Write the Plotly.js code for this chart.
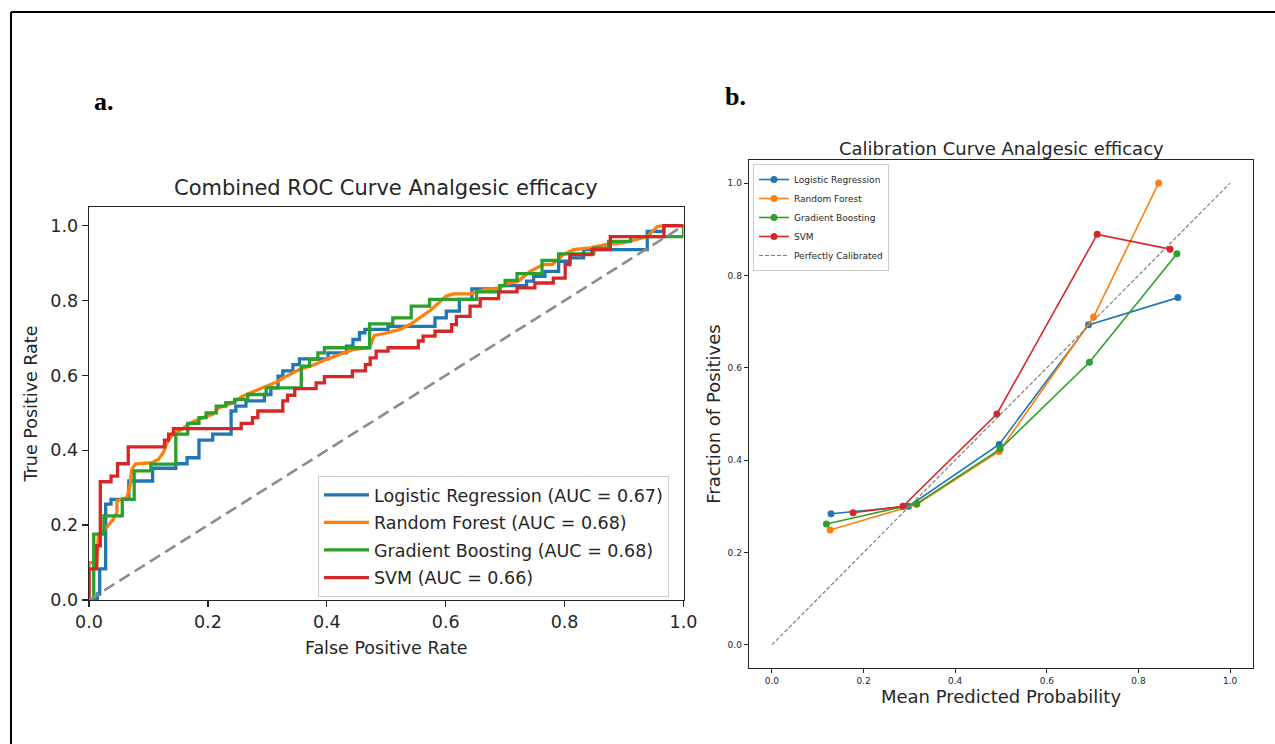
<!DOCTYPE html>
<html>
<head>
<meta charset="utf-8">
<script src="https://cdn.plot.ly/plotly-3.0.1.min.js"></script>
<style>html,body{margin:0;padding:0;background:#fff;}#chart{width:1275px;height:744px;}</style>
</head>
<body>
<div id="chart"></div>
<script>
// ---------- Panel a: ROC curves (corner points of each step curve) ----------
const fprLR = [0, 0.014, 0.018, 0.028, 0.037, 0.067, 0.107, 0.146, 0.165, 0.185, 0.208, 0.239, 0.247, 0.264, 0.295, 0.306, 0.318, 0.326, 0.343, 0.354, 0.402, 0.433, 0.444, 0.455, 0.464, 0.503, 0.582, 0.601, 0.623, 0.644, 0.691, 0.736, 0.748, 0.767, 0.790, 0.809, 0.832, 0.939, 0.967, 1.0];
const tprLR = [0, 0.016, 0.083, 0.256, 0.269, 0.318, 0.352, 0.364, 0.380, 0.427, 0.443, 0.505, 0.518, 0.532, 0.549, 0.567, 0.598, 0.612, 0.629, 0.644, 0.660, 0.678, 0.696, 0.714, 0.723, 0.731, 0.754, 0.772, 0.803, 0.831, 0.840, 0.852, 0.865, 0.878, 0.905, 0.914, 0.936, 0.985, 1.0, 1.0];

const fprRF = [0, 0, 0.013, 0.016, 0.027, 0.041, 0.047, 0.047, 0.064, 0.069, 0.072, 0.078, 0.106, 0.117, 0.125, 0.134, 0.145, 0.156, 0.169, 0.185, 0.208, 0.219, 0.242, 0.259, 0.275, 0.298, 0.315, 0.332, 0.354, 0.377, 0.399, 0.422, 0.444, 0.472, 0.480, 0.497, 0.523, 0.540, 0.556, 0.576, 0.601, 0.613, 0.641, 0.666, 0.689, 0.703, 0.722, 0.742, 0.764, 0.779, 0.798, 0.815, 0.843, 0.866, 0.899, 0.922, 0.939, 0.956, 0.967, 1.0];
const tprRF = [0, 0.100, 0.100, 0.176, 0.189, 0.216, 0.234, 0.265, 0.274, 0.305, 0.349, 0.363, 0.367, 0.376, 0.394, 0.429, 0.447, 0.456, 0.472, 0.483, 0.496, 0.514, 0.527, 0.545, 0.556, 0.572, 0.582, 0.598, 0.616, 0.627, 0.643, 0.656, 0.669, 0.674, 0.707, 0.712, 0.723, 0.736, 0.754, 0.776, 0.812, 0.818, 0.818, 0.829, 0.834, 0.845, 0.852, 0.878, 0.896, 0.896, 0.923, 0.936, 0.941, 0.949, 0.954, 0.963, 0.971, 0.998, 1.0, 1.0];

const fprGB = [0, 0.008, 0.025, 0.056, 0.076, 0.104, 0.146, 0.166, 0.185, 0.197, 0.214, 0.230, 0.245, 0.267, 0.298, 0.357, 0.371, 0.385, 0.396, 0.472, 0.511, 0.542, 0.573, 0.652, 0.691, 0.700, 0.720, 0.762, 0.790, 0.849, 0.874, 0.911, 1.0, 1.0];
const tprGB = [0, 0.176, 0.225, 0.269, 0.345, 0.363, 0.443, 0.472, 0.487, 0.500, 0.518, 0.527, 0.536, 0.549, 0.567, 0.625, 0.643, 0.660, 0.674, 0.738, 0.754, 0.785, 0.803, 0.823, 0.840, 0.854, 0.872, 0.907, 0.925, 0.940, 0.958, 0.971, 0.971, 1.0];

const fprSVM = [0, 0, 0.013, 0.019, 0.037, 0.048, 0.066, 0.127, 0.134, 0.142, 0.256, 0.275, 0.284, 0.326, 0.334, 0.346, 0.382, 0.396, 0.443, 0.465, 0.473, 0.483, 0.503, 0.554, 0.562, 0.582, 0.610, 0.618, 0.641, 0.658, 0.689, 0.720, 0.750, 0.781, 0.801, 0.809, 0.846, 0.877, 0.967, 1.0];
const tprSVM = [0, 0.083, 0.145, 0.316, 0.331, 0.364, 0.409, 0.427, 0.443, 0.458, 0.472, 0.487, 0.505, 0.532, 0.547, 0.565, 0.580, 0.597, 0.612, 0.629, 0.647, 0.665, 0.674, 0.692, 0.705, 0.718, 0.736, 0.758, 0.785, 0.805, 0.823, 0.834, 0.847, 0.860, 0.896, 0.923, 0.936, 0.971, 1.0, 1.0];

const rocNames = ["Logistic Regression (AUC = 0.67)", "Random Forest (AUC = 0.68)", "Gradient Boosting (AUC = 0.68)", "SVM (AUC = 0.66)"];
const chanceX = [0, 1];
const chanceY = [0, 1];

// ---------- Panel b: calibration curves ----------
const calNames = ["Logistic Regression", "Random Forest", "Gradient Boosting", "SVM"];
const calPredLR = [0.129, 0.298, 0.496, 0.691, 0.886];
const calFracLR = [0.284, 0.300, 0.434, 0.693, 0.752];
const calPredRF = [0.127, 0.316, 0.496, 0.702, 0.844];
const calFracRF = [0.249, 0.304, 0.419, 0.710, 1.000];
const calPredGB = [0.119, 0.316, 0.498, 0.693, 0.884];
const calFracGB = [0.262, 0.306, 0.424, 0.612, 0.847];
const calPredSVM = [0.177, 0.286, 0.491, 0.710, 0.869];
const calFracSVM = [0.286, 0.300, 0.500, 0.889, 0.857];
const perfectX = [0, 1];
const perfectY = [0, 1];

const colors = ["#1f77b4", "#ff7f0e", "#2ca02c", "#d62728"];
const FONT = "DejaVu Sans, sans-serif";

const W = 1275, H = 744;
const px = v => v / W;
const py = v => 1 - v / H;

const traces = [];
const rocX = [fprLR, fprRF, fprGB, fprSVM];
const rocY = [tprLR, tprRF, tprGB, tprSVM];
const rocShape = ["hv", "linear", "hv", "hv"];
for (let i = 0; i < 4; i++) {
  traces.push({
    x: rocX[i], y: rocY[i], xaxis: "x", yaxis: "y", mode: "lines",
    name: rocNames[i], legend: "legend", legendgroup: "r" + i,
    line: {color: colors[i], width: 3.3, shape: rocShape[i]},
    hoverinfo: "skip"
  });
}
traces.push({
  x: chanceX, y: chanceY, xaxis: "x", yaxis: "y", mode: "lines", showlegend: false,
  line: {color: "#8c8c8c", width: 2.6, dash: "12px,6px"}, hoverinfo: "skip"
});
const calX = [calPredLR, calPredRF, calPredGB, calPredSVM];
const calY = [calFracLR, calFracRF, calFracGB, calFracSVM];
for (let i = 0; i < 4; i++) {
  traces.push({
    x: calX[i], y: calY[i], xaxis: "x2", yaxis: "y2", mode: "lines+markers",
    name: calNames[i], legend: "legend2",
    line: {color: colors[i], width: 1.6}, marker: {color: colors[i], size: 7},
    hoverinfo: "skip"
  });
}
traces.push({
  x: perfectX, y: perfectY, xaxis: "x2", yaxis: "y2", mode: "lines",
  name: "Perfectly Calibrated", legend: "legend2",
  line: {color: "#808080", width: 1.2, dash: "4px,2px"}, hoverinfo: "skip"
});

const axBase = {
  showgrid: false, zeroline: false, showline: true, mirror: true,
  linecolor: "#262626", linewidth: 1.3, ticks: "outside", tickcolor: "#262626",
  tickformat: ".1f", fixedrange: true
};

const layout = {
  width: W, height: H, autosize: false,
  margin: {l: 0, r: 0, t: 0, b: 0},
  paper_bgcolor: "#ffffff", plot_bgcolor: "#ffffff",
  font: {family: FONT, color: "#262626"},
  showlegend: true,
  xaxis: Object.assign({}, axBase, {
    domain: [px(89), px(683.5)], anchor: "y", range: [0, 1], tickvals: [0, 0.2, 0.4, 0.6, 0.8, 1.0],
    ticklen: 6, tickwidth: 1.3, tickfont: {size: 17.5, family: FONT, color: "#262626"},
    title: {text: "False Positive Rate", font: {size: 17.5, family: FONT, color: "#262626"}, standoff: 10}
  }),
  yaxis: Object.assign({}, axBase, {
    domain: [py(600), py(207)], anchor: "x", range: [0, 1.05], tickvals: [0, 0.2, 0.4, 0.6, 0.8, 1.0],
    ticklen: 6, tickwidth: 1.3, tickfont: {size: 17.5, family: FONT, color: "#262626"},
    title: {text: "True Positive Rate", font: {size: 17.5, family: FONT, color: "#262626"}, standoff: 8}
  }),
  xaxis2: Object.assign({}, axBase, {
    domain: [px(749), px(1253)], anchor: "y2", range: [-0.05, 1.05], tickvals: [0, 0.2, 0.4, 0.6, 0.8, 1.0],
    ticklen: 4, tickwidth: 1, tickfont: {size: 9, family: FONT, color: "#262626"},
    title: {text: "Mean Predicted Probability", font: {size: 18, family: FONT, color: "#262626"}, standoff: 4}
  }),
  yaxis2: Object.assign({}, axBase, {
    domain: [py(668), py(160)], anchor: "x2", range: [-0.05, 1.05], tickvals: [0, 0.2, 0.4, 0.6, 0.8, 1.0],
    ticklen: 4, tickwidth: 1, tickfont: {size: 9, family: FONT, color: "#262626"},
    title: {text: "Fraction of Positives", font: {size: 18, family: FONT, color: "#262626"}, standoff: 2}
  }),
  legend: {
    x: px(318), y: py(476), xanchor: "left", yanchor: "top",
    bgcolor: "rgba(255,255,255,0.85)", bordercolor: "#cccccc", borderwidth: 1,
    font: {size: 17.5, family: FONT, color: "#262626"}, tracegroupgap: 1.8, traceorder: "grouped",
    itemwidth: 45
  },
  legend2: {
    x: px(753), y: py(164), xanchor: "left", yanchor: "top",
    bgcolor: "rgba(255,255,255,0.85)", bordercolor: "#cccccc", borderwidth: 1,
    font: {size: 9, family: FONT, color: "#262626"}, itemwidth: 30, traceorder: "normal"
  },
  annotations: [
    {text: "Combined ROC Curve Analgesic efficacy", x: px(386), y: py(188), xref: "paper", yref: "paper",
     xanchor: "center", yanchor: "middle", showarrow: false, font: {size: 21, family: FONT, color: "#262626"}},
    {text: "Calibration Curve Analgesic efficacy", x: px(1001), y: py(148), xref: "paper", yref: "paper",
     xanchor: "center", yanchor: "middle", showarrow: false, font: {size: 18, family: FONT, color: "#262626"}},
    {text: "<b>a.</b>", x: px(92), y: py(102), xref: "paper", yref: "paper",
     xanchor: "left", yanchor: "middle", showarrow: false, font: {size: 26, family: "Liberation Serif, serif", color: "#000"}},
    {text: "<b>b.</b>", x: px(723), y: py(96), xref: "paper", yref: "paper",
     xanchor: "left", yanchor: "middle", showarrow: false, font: {size: 26, family: "Liberation Serif, serif", color: "#000"}}
  ],
  shapes: [
    {type: "line", xref: "paper", yref: "paper", x0: px(11), x1: 1, y0: py(12), y1: py(12), line: {color: "#000", width: 2}},
    {type: "line", xref: "paper", yref: "paper", x0: px(11), x1: px(11), y0: 0, y1: py(12), line: {color: "#000", width: 2}}
  ]
};

Plotly.newPlot("chart", traces, layout, {displayModeBar: false, staticPlot: true});
</script>
</body>
</html>
